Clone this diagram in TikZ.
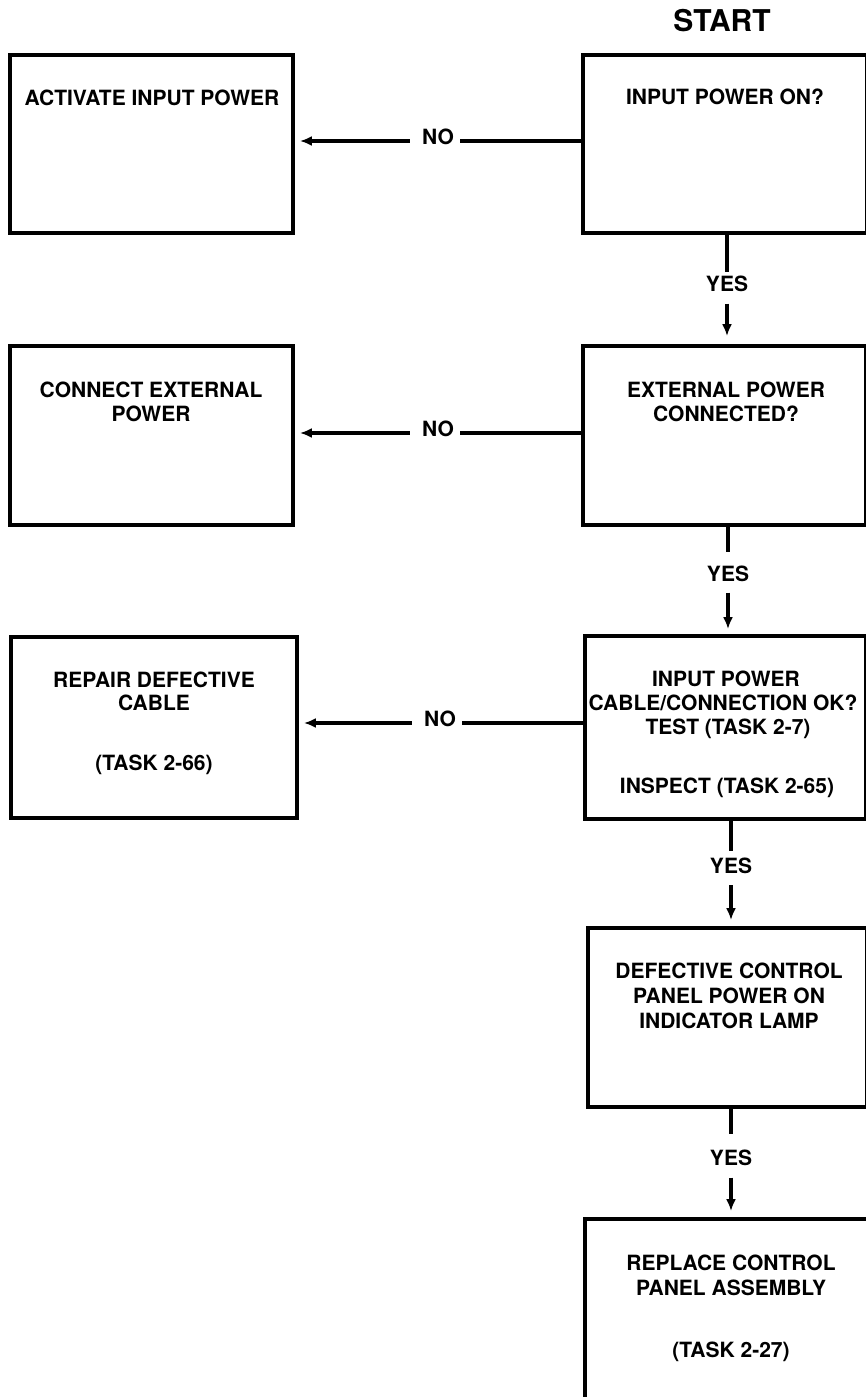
\documentclass[tikz,border=0pt]{standalone}
\usepackage{fontspec}
\setmainfont{TeX Gyre Heros}
\usetikzlibrary{arrows.meta}
\begin{document}
\begin{tikzpicture}[x=1pt,y=-1pt,
  box/.style={draw, line width=3.8pt, rectangle, inner sep=0pt},
  txt/.style={anchor=base, inner sep=0pt, font=\fontsize{21}{24}\selectfont\bfseries},
  lbl/.style={inner sep=0pt, font=\fontsize{21}{24}\selectfont\bfseries},
  conn/.style={line width=3.4pt},
  arr/.style={conn, -{Latex[length=12pt,width=10pt]}}]
\useasboundingbox (0,0) rectangle (866,1397);
\clip (0,0) rectangle (866,1397);

% title
\node[anchor=base, inner sep=0pt, font=\fontsize{30}{34}\selectfont\bfseries] (start) at (722,32) {START};

% boxes
\node[box, minimum width=283pt, minimum height=178pt] (L1) at (151.5,144) {};
\node[box, minimum width=284pt, minimum height=178pt] (R1) at (725,144) {};
\node[box, minimum width=283pt, minimum height=179pt] (L2) at (151.5,435.5) {};
\node[box, minimum width=283pt, minimum height=179pt] (R2) at (724.5,435.5) {};
\node[box, minimum width=286pt, minimum height=181pt] (L3) at (154,727.5) {};
\node[box, minimum width=281pt, minimum height=183pt] (R3) at (725.5,727.5) {};
\node[box, minimum width=279pt, minimum height=179pt] (R4) at (727.5,1017.5) {};
\node[box, minimum width=283pt, minimum height=201pt] (R5) at (726.5,1319.5) {};

% texts
\node[txt] (tL1) at (152,105) {ACTIVATE INPUT POWER};
\node[txt] (tR1) at (725,104) {INPUT POWER ON?};

\node[txt] (tL2a) at (151,397) {CONNECT EXTERNAL};
\node[txt] (tL2b) at (151,421) {POWER};
\node[txt] (tR2a) at (726,397) {EXTERNAL POWER};
\node[txt] (tR2b) at (726,421) {CONNECTED?};

\node[txt] (tL3a) at (154,687) {REPAIR DEFECTIVE};
\node[txt] (tL3b) at (154,710) {CABLE};
\node[txt] (tL3c) at (154,770) {(TASK 2-66)};
\node[txt] (tR3a) at (726,686) {INPUT POWER};
\node[txt] (tR3b) at (723,710) {CABLE/CONNECTION OK?};
\node[txt] (tR3c) at (728,734) {TEST (TASK 2-7)};
\node[txt] (tR3d) at (727,793) {INSPECT (TASK 2-65)};

\node[txt] (tR4a) at (729,978) {DEFECTIVE CONTROL};
\node[txt] (tR4b) at (729,1003) {PANEL POWER ON};
\node[txt] (tR4c) at (729,1028) {INDICATOR LAMP};

\node[txt] (tR5a) at (731,1270) {REPLACE CONTROL};
\node[txt] (tR5b) at (731,1295) {PANEL ASSEMBLY};
\node[txt] (tR5c) at (731,1357) {(TASK 2-27)};

% YES labels and connectors
\node[lbl] (Y1) at (727,284) {YES};
\node[lbl] (Y2) at (728,574) {YES};
\node[lbl] (Y3) at (731,866) {YES};
\node[lbl] (Y4) at (731,1157.5) {YES};

\draw[conn, shorten >=3.5pt] (R1.south -| Y1) -- (Y1.north);
\draw[arr, shorten <=11.5pt, shorten >=8pt] (Y1.south) -- (R2.north -| Y1);
\draw[conn, shorten >=13.5pt] (R2.south -| Y2) -- (Y2.north);
\draw[arr, shorten <=10.5pt, shorten >=5pt] (Y2.south) -- (R3.north -| Y2);
\draw[conn, shorten >=6.5pt] (R3.south -| Y3) -- (Y3.north);
\draw[arr, shorten <=11pt, shorten >=6pt] (Y3.south) -- (R4.north -| Y3);
\draw[conn, shorten >=15pt] (R4.south -| Y4) -- (Y4.north);
\draw[arr, shorten <=12pt, shorten >=6pt] (Y4.south) -- (R5.north -| Y4);

% NO labels and connectors
\coordinate (n1) at (438,141);
\coordinate (n2) at (438,433);
\coordinate (n3) at (438,723);
\node[lbl] (N1) at (438,137) {NO};
\node[lbl] (N2) at (438,429) {NO};
\node[lbl] (N3) at (440,719) {NO};

\draw[conn, shorten >=6pt] (R1.west |- n1) -- (N1.east |- n1);
\draw[arr, shorten <=12pt, shorten >=5pt] (N1.west |- n1) -- (L1.east |- n1);
\draw[conn, shorten >=6pt] (R2.west |- n2) -- (N2.east |- n2);
\draw[arr, shorten <=12pt, shorten >=5pt] (N2.west |- n2) -- (L2.east |- n2);
\draw[conn, shorten >=6pt] (R3.west |- n3) -- (N3.east |- n3);
\draw[arr, shorten <=12pt, shorten >=5pt] (N3.west |- n3) -- (L3.east |- n3);
\end{tikzpicture}
\end{document}
